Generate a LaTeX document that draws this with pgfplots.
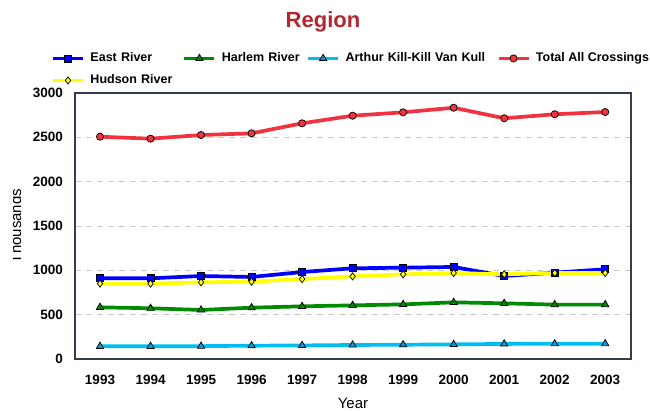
\documentclass[border=0pt]{standalone}
\usepackage{pgfplots}
\pgfplotsset{compat=1.18}
\usepackage{fontspec}
\setmainfont{Liberation Sans}
\definecolor{eastc}{RGB}{0,0,255}
\definecolor{harlemc}{RGB}{0,140,0}
\definecolor{arthurc}{RGB}{0,190,240}
\definecolor{arthurm}{RGB}{20,150,210}
\definecolor{totalc}{RGB}{240,50,65}
\definecolor{hudsonc}{RGB}{255,255,0}
\definecolor{titlec}{RGB}{178,40,48}
\definecolor{axc}{RGB}{50,62,78}
\definecolor{gridc}{RGB}{200,200,200}
\begin{document}
\begin{tikzpicture}
\begin{axis}[
  scale only axis, width=556bp, height=266bp,
  xmin=1992.505, xmax=2003.51, ymin=0, ymax=3000,
  xtick={1993,1994,...,2003}, ytick={0,500,...,3000},
  /pgf/number format/assume math mode=true,
  /pgf/number format/1000 sep={},
  major tick length=0pt,
  axis line style={draw=axc, line width=1.2bp},
  ymajorgrids, grid style={draw=gridc, line width=0.8bp, dash pattern=on 6bp off 5bp},
  ticklabel style={font=\fontsize{13.5bp}{16bp}\selectfont\bfseries},
  yticklabel style={anchor=east, inner sep=0pt, xshift=-12bp},
  xticklabel style={anchor=base, inner sep=0pt, yshift=-25.3bp},
  xlabel={Year}, ylabel={Thousands},
  xlabel style={at={(0.5,0)}, anchor=base, inner sep=0pt, yshift=-49.8bp, font=\fontsize{15bp}{18bp}\selectfont},
  ylabel style={at={(-0.0971,0.5)}, anchor=base, inner sep=0pt, font=\fontsize{15bp}{18bp}\selectfont},
  every axis plot/.append style={line width=3.7bp},
  legend image code/.code={\draw[mark repeat=2,mark phase=2] plot coordinates {(0bp,0bp) (15bp,0bp) (30bp,0bp)};},
  legend columns=4,
  legend style={at={(-0.0432,1.1523)}, anchor=north west, draw=none, fill=none, inner sep=0pt,
    font=\fontsize{12.5bp}{15bp}\selectfont\bfseries,
    row sep=10.5bp, column sep=0pt,
    nodes={inner xsep=5.6bp, inner ysep=0pt, text height=9bp, text depth=2.5bp, align=left},
    /tikz/column 2/.style={text width=86.5bp},
    /tikz/column 4/.style={text width=78.8bp},
    /tikz/column 6/.style={text width=145.5bp}},
  legend cell align=left,
]
\addplot[color=eastc, mark=square*, mark size=3.5bp, mark options={solid, draw=black, line width=0.7bp, fill=eastc}] coordinates {
(1993,910) (1994,910) (1995,936) (1996,925) (1997,981) (1998,1023) (1999,1030) (2000,1038) (2001,936) (2002,974) (2003,1012)};
\addlegendentry{East River}
\addplot[color=harlemc, mark=triangle*, mark size=4.2bp, mark options={solid, draw=black, line width=0.7bp, fill=harlemc}] coordinates {
(1993,583) (1994,572) (1995,553) (1996,579) (1997,594) (1998,605) (1999,616) (2000,639) (2001,628) (2002,613) (2003,613)};
\addlegendentry{Harlem River}
\addplot[color=arthurc, mark=triangle*, mark size=4.2bp, mark options={solid, draw=black, line width=0.7bp, fill=arthurm}] coordinates {
(1993,143) (1994,143) (1995,145) (1996,150) (1997,153) (1998,158) (1999,161) (2000,165) (2001,170) (2002,172) (2003,172)};
\addlegendentry{Arthur Kill-Kill Van Kull}
\addplot[color=totalc, mark=*, mark size=3.6bp, mark options={solid, draw=black, line width=0.7bp, fill=totalc}] coordinates {
(1993,2507) (1994,2485) (1995,2526) (1996,2545) (1997,2658) (1998,2744) (1999,2782) (2000,2834) (2001,2715) (2002,2760) (2003,2786)};
\addlegendentry{Total All Crossings}
\addplot[color=hudsonc, mark=diamond*, mark size=3.6bp, mark options={solid, draw=black, line width=0.7bp, fill=hudsonc}] coordinates {
(1993,850) (1994,850) (1995,865) (1996,872) (1997,902) (1998,932) (1999,955) (2000,970) (2001,955) (2002,970) (2003,970)};
\addlegendentry{Hudson River}
\coordinate (sw) at (rel axis cs:0,0);
\end{axis}
\fill[white] ([xshift=-75bp,yshift=-52bp]sw) rectangle ([xshift=-61.5bp,yshift=359bp]sw);
\node[text=titlec, font=\fontsize{22bp}{26bp}\selectfont\bfseries] at ([xshift=248bp,yshift=337bp]sw) {Region};
\pgfresetboundingbox
\path[use as bounding box] ([xshift=-75bp,yshift=-52bp]sw) rectangle ([xshift=575bp,yshift=359bp]sw);
\end{tikzpicture}
\end{document}
